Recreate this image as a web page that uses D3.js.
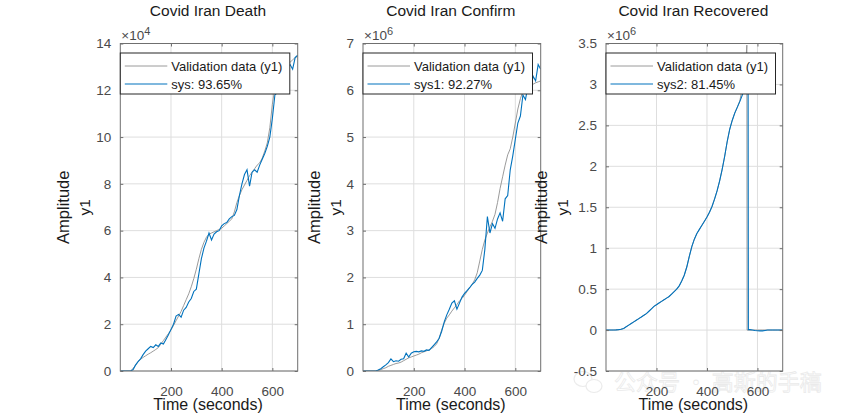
<!DOCTYPE html>
<html>
<head>
<meta charset="utf-8">
<script src="https://cdn.jsdelivr.net/npm/d3@7"></script>
<style>
  html, body { margin: 0; padding: 0; background: #ffffff; }
  svg { display: block; }
  text { font-family: "Liberation Sans", Arial, Helvetica, sans-serif; }
</style>
</head>
<body>
<svg id="chart" width="865" height="417"></svg>
<script>
// ---------------- DATA ----------------
const days = [
  0,10,20,30,40,50,60,70,80,90,
  100,110,120,130,140,150,160,170,180,190,
  200,210,220,230,240,250,260,270,280,290,
  300,310,320,330,340,350,360,370,380,390,
  400,410,420,430,440,450,460,470,480,490,
  500,510,520,530,540,550,560,570,580,590,
  600,610,620,630,640,650,660,670,680,690,
  700
];

// Covid Iran Death (x 10^4)
const deathValidation = [
  0,0,0,0,0,0.1,0.25,0.4,0.5,0.58,
  0.65,0.72,0.78,0.85,0.92,1.0,1.15,1.3,1.45,1.6,
  1.75,1.95,2.15,2.35,2.55,2.8,3.05,3.3,3.6,3.95,
  4.35,4.8,5.2,5.5,5.72,5.85,5.9,5.95,6.0,6.05,
  6.1,6.2,6.3,6.4,6.5,6.8,7.2,7.5,7.75,7.95,
  8.15,8.35,8.5,8.65,8.8,8.9,9.1,9.4,9.75,10.4,
  11.4,12.1,12.5,12.7,12.9,13.0,13.1,13.2,13.3,13.4,
  13.45
];
const deathSys = [
  0,0,0,0,0,0.05,0.25,0.4,0.52,0.7,
  0.85,0.95,1.05,1.0,1.12,1.05,1.2,1.15,1.35,1.55,
  1.78,2.0,2.35,2.42,2.3,2.6,2.72,2.95,3.1,3.4,
  3.5,4.15,4.8,5.25,5.55,5.9,5.6,5.85,5.95,6.0,
  6.2,6.3,6.35,6.5,6.6,6.65,6.9,7.5,8.0,8.4,
  8.6,7.9,8.5,8.6,8.5,8.8,9.05,9.3,9.6,10.0,
  10.8,11.8,11.9,12.3,12.6,12.8,13.0,13.1,12.9,13.4,
  13.5
];

// Covid Iran Confirm (x 10^6)
const confirmValidation = [
  0,0,0,0,0,0,0.01,0.03,0.05,0.07,
  0.1,0.12,0.14,0.16,0.17,0.19,0.22,0.25,0.28,0.3,
  0.32,0.34,0.36,0.39,0.41,0.43,0.45,0.48,0.52,0.58,
  0.7,0.88,1.02,1.13,1.2,1.28,1.35,1.42,1.5,1.55,
  1.62,1.7,1.78,1.85,1.95,2.1,2.35,2.6,2.8,2.95,
  3.08,3.2,3.35,3.6,3.9,4.15,4.4,4.62,4.75,5.0,
  5.3,5.6,5.82,5.98,6.03,6.06,6.1,6.13,6.16,6.18,
  6.2
];
const confirmSys = [
  0,0,0,0,0,0,0.02,0.05,0.09,0.13,
  0.18,0.26,0.2,0.22,0.21,0.25,0.26,0.38,0.3,0.38,
  0.41,0.42,0.41,0.43,0.42,0.45,0.44,0.5,0.56,0.62,
  0.7,0.85,1.05,1.2,1.32,1.45,1.5,1.32,1.45,1.58,
  1.66,1.72,1.78,1.85,1.9,1.98,2.05,2.15,2.6,3.3,
  2.95,3.15,3.05,3.25,3.38,3.2,3.68,3.75,4.3,4.6,
  4.95,5.3,5.45,5.9,5.8,6.1,6.0,6.3,6.2,6.55,
  6.45
];

// Covid Iran Recovered (x 10^6)
const recDays = [
  0,10,20,30,40,50,60,70,80,90,
  100,110,120,130,140,150,160,170,180,190,
  200,210,220,230,240,250,260,270,280,290,
  300,310,320,330,340,350,360,370,380,390,
  400,410,420,430,440,450,460,470,480,490,
  500,510,520,530,540,550,555,558,559,563,
  564,570,580,590,600,610,620,630,640,650,
  660,670,680,690,700
];
const recValidation = [
  0,0,0,0,0.002,0.005,0.01,0.02,0.04,0.06,
  0.08,0.1,0.12,0.14,0.16,0.18,0.2,0.23,0.26,0.29,
  0.31,0.33,0.35,0.37,0.39,0.41,0.44,0.47,0.5,0.54,
  0.6,0.67,0.77,0.9,1.02,1.11,1.18,1.23,1.28,1.33,
  1.38,1.44,1.51,1.6,1.7,1.82,1.96,2.12,2.3,2.45,
  2.56,2.65,2.72,2.8,2.95,3.2,3.33,3.48,0,0,
  0,0,0,0,0,0,0,0,0,0,
  0,0,0,0,0
];
const recSys = [
  0,0,0,0,0.002,0.005,0.01,0.02,0.04,0.06,
  0.08,0.1,0.12,0.14,0.16,0.18,0.2,0.23,0.26,0.29,
  0.31,0.33,0.35,0.37,0.39,0.41,0.44,0.47,0.5,0.54,
  0.6,0.67,0.77,0.9,1.02,1.11,1.18,1.23,1.28,1.33,
  1.38,1.44,1.51,1.6,1.7,1.82,1.96,2.12,2.3,2.45,
  2.56,2.65,2.72,2.79,2.87,2.95,2.98,3.0,3.0,3.0,
  0.005,0.005,0,-0.005,-0.008,-0.01,-0.01,-0.005,0,0,
  0,0,0,0,0
];

// Ticks and labels
const xTicks = [200, 400, 600];
const deathTicks = [0, 2, 4, 6, 8, 10, 12, 14];
const confirmTicks = [0, 1, 2, 3, 4, 5, 6, 7];
const recTicks = [-0.5, 0, 0.5, 1, 1.5, 2, 2.5, 3, 3.5];
const titles = ["Covid Iran Death", "Covid Iran Confirm", "Covid Iran Recovered"];
const exponents = ["4", "6", "6"];
const legendValidation = "Validation data (y1)";
const legendSys = ["sys: 93.65%", "sys1: 92.27%", "sys2: 81.45%"];
const xLabel = "Time (seconds)";
const yLabel = ["Amplitude", "y1"];
const watermark = "公众号 · 高斯的手稿";

// ---------------- LAYOUT ----------------
const svg = d3.select("#chart");
const TOP = 43.5, BOTTOM = 371;
const panels = [
  { left: 120.3, right: 297.7, yDomain: [0, 14], ticks: deathTicks, x: days, v: deathValidation, s: deathSys, ampX: 63.5 },
  { left: 363.0, right: 540.7, yDomain: [0, 7], ticks: confirmTicks, x: days, v: confirmValidation, s: confirmSys, ampX: 314 },
  { left: 606.0, right: 782.7, yDomain: [-0.5, 3.5], ticks: recTicks, x: recDays, v: recValidation, s: recSys, ampX: 541 }
];

const gridColor = "#dedede";
const axisColor = "#6f6f6f";
const tickTextColor = "#4a4a4a";
const blue = "#0072BD";
const gray = "#8f8f8f";

// faint watermark (drawn first, behind everything)
const wm = svg.append("g").attr("opacity", 0.35);
wm.append("ellipse").attr("cx", 583).attr("cy", 379).attr("rx", 9).attr("ry", 7.5)
  .attr("fill", "none").attr("stroke", "#c8c8c8").attr("stroke-width", 1.2);
wm.append("ellipse").attr("cx", 594).attr("cy", 386).attr("rx", 8).attr("ry", 6.5)
  .attr("fill", "#ffffff").attr("stroke", "#c8c8c8").attr("stroke-width", 1.2);
wm.append("text").attr("x", 614).attr("y", 390).attr("fill", "#ffffff").attr("stroke", "#c4c4c4")
  .attr("stroke-width", 0.8).style("font-size", "22px")
  .style("font-family", '"Noto Sans CJK SC", sans-serif').text(watermark);

panels.forEach((p, i) => {
  const x = d3.scaleLinear().domain([0, 700]).range([p.left, p.right]);
  const y = d3.scaleLinear().domain(p.yDomain).range([BOTTOM, TOP]);
  const g = svg.append("g");

  const clipId = "clip" + i;
  svg.append("clipPath").attr("id", clipId)
    .append("rect").attr("x", p.left).attr("y", TOP).attr("width", p.right - p.left).attr("height", BOTTOM - TOP);

  // grid
  g.append("g").selectAll("line").data(xTicks).join("line")
    .attr("x1", d => x(d)).attr("x2", d => x(d)).attr("y1", TOP).attr("y2", BOTTOM)
    .attr("stroke", gridColor).attr("stroke-width", 1);
  g.append("g").selectAll("line").data(p.ticks).join("line")
    .attr("x1", p.left).attr("x2", p.right).attr("y1", d => y(d)).attr("y2", d => y(d))
    .attr("stroke", gridColor).attr("stroke-width", 1);

  // lines
  const line = (vals) => d3.line().x((d, k) => x(p.x[k])).y(d => y(d))(vals);
  const lg = g.append("g").attr("clip-path", `url(#${clipId})`);
  lg.append("path").attr("d", line(p.v)).attr("fill", "none").attr("stroke", gray).attr("stroke-width", 0.9);
  lg.append("path").attr("d", line(p.s)).attr("fill", "none").attr("stroke", blue).attr("stroke-width", 1.1);

  // axes (ticks inside)
  const axB = d3.axisBottom(x).tickValues(xTicks).tickSize(-3).tickPadding(15).tickFormat(d3.format("d"));
  const axT = d3.axisTop(x).tickValues(xTicks).tickSize(-3).tickFormat("");
  const axL = d3.axisLeft(y).tickValues(p.ticks).tickSize(-3).tickPadding(9).tickFormat(d => String(d));
  const axR = d3.axisRight(y).tickValues(p.ticks).tickSize(-3).tickFormat("");

  const style = sel => {
    sel.selectAll(".tick line").attr("stroke", axisColor).attr("stroke-width", 1);
    sel.selectAll(".tick text").attr("fill", tickTextColor).style("font-size", "13.5px")
      .style("font-family", '"Liberation Sans", Arial, sans-serif');
  };
  g.append("g").attr("transform", `translate(0,${BOTTOM})`).call(axB).call(style);
  g.append("g").attr("transform", `translate(0,${TOP})`).call(axT).call(style);
  g.append("g").attr("transform", `translate(${p.left},0)`).call(axL).call(style);
  g.append("g").attr("transform", `translate(${p.right},0)`).call(axR).call(style);
  g.selectAll("path.domain").remove();
  g.append("rect").attr("x", p.left).attr("y", TOP).attr("width", p.right - p.left).attr("height", BOTTOM - TOP)
    .attr("fill", "none").attr("stroke", axisColor).attr("stroke-width", 1);

  // exponent label
  const ex = g.append("text").attr("x", p.left + 1).attr("y", 40).attr("fill", tickTextColor)
    .style("font-size", "13.5px");
  ex.append("tspan").text("\u00d710");
  ex.append("tspan").attr("dy", -5).style("font-size", "11px").text(exponents[i]);

  // title
  g.append("text").attr("x", (p.left + p.right) / 2 - 1).attr("y", 15.5).attr("text-anchor", "middle")
    .attr("fill", "#1a1a1a").style("font-size", "15.5px").text(titles[i]);

  // x label
  g.append("text").attr("x", (p.left + p.right) / 2 - 1).attr("y", 409.5).attr("text-anchor", "middle")
    .attr("fill", "#1a1a1a").style("font-size", "16px").text(xLabel);

  // y label (two lines)
  const cy = (TOP + BOTTOM) / 2;
  g.append("text").attr("transform", `translate(${p.ampX + 5.5},${cy}) rotate(-90)`).attr("text-anchor", "middle")
    .attr("fill", "#1a1a1a").style("font-size", "16.5px").text(yLabel[0]);
  g.append("text").attr("transform", `translate(${p.ampX + 26.5},${cy}) rotate(-90)`).attr("text-anchor", "middle")
    .attr("fill", "#1a1a1a").style("font-size", "15.5px").text(yLabel[1]);

  // legend
  const lgX = p.left, lgY = 53, lgW = 169.5, lgH = 41;
  const leg = g.append("g");
  leg.append("rect").attr("x", lgX).attr("y", lgY).attr("width", lgW).attr("height", lgH)
    .attr("fill", "#ffffff").attr("stroke", "#262626").attr("stroke-width", 1);
  const rows = [
    { label: legendValidation, color: gray, w: 0.9, yy: lgY + 13 },
    { label: legendSys[i], color: blue, w: 1.1, yy: lgY + 31 }
  ];
  rows.forEach(r => {
    leg.append("line").attr("x1", lgX + 4.5).attr("x2", lgX + 47).attr("y1", r.yy).attr("y2", r.yy)
      .attr("stroke", r.color).attr("stroke-width", r.w);
    leg.append("text").attr("x", lgX + 51).attr("y", r.yy + 4.5).attr("fill", "#1a1a1a")
      .style("font-size", "13px").text(r.label);
  });
});
</script>
</body>
</html>
